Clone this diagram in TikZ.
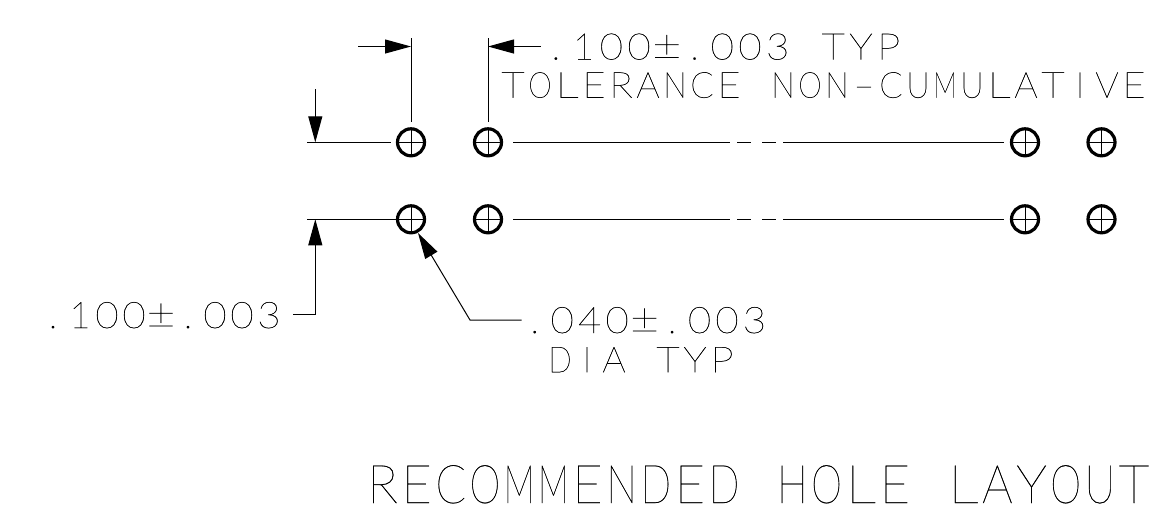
\documentclass[tikz,border=0pt]{standalone}
\usepackage{fontspec}
\usepackage{graphicx}
\usetikzlibrary{arrows.meta}
\newfontfamily\cad[FakeBold=0.5]{Lato Hairline}
\newlength{\cadpitch}
\newlength{\cadwide}
\makeatletter
\def\cadspaced#1{\cad@next#1\relax}
\def\cad@next#1{\ifx#1\relax\else\cad@put{#1}\expandafter\cad@next\fi}
\def\cad@put#1{\makebox[\cadpitch][c]{%
  \ifx#1~~\else\ifx#1..\else\ifx#11\relax 1\else\ifx#1II\else\ifx#1±\relax
    \resizebox{1.25\cadwide}{1.2\height}{±}\else
    \resizebox{\cadwide}{\height}{#1}\fi\fi\fi\fi\fi}}
\makeatother
\newcommand{\cadtext}[4]{\setlength{\cadpitch}{#2}\setlength{\cadwide}{#3}\fontsize{#1}{#1}\cad\cadspaced{#4}}
\tikzset{
  px/.style={x=0.75pt,y=-0.75pt},
  hole/.style={circle,draw=black,line width=2.4pt,minimum size=20.25pt,inner sep=0pt,
    path picture={\draw[line width=.6pt] (path picture bounding box.north)--(path picture bounding box.south)
      (path picture bounding box.west)--(path picture bounding box.east);}},
  dim/.style={line width=.75pt,draw=black},
  tip/.style={-{Triangle[length=19.5pt,width=10.5pt]}},
  small/.style={anchor=base west,inner sep=0pt,outer sep=0pt,text=black},
}
\begin{document}
\begin{tikzpicture}[px]
\useasboundingbox (0,0) rectangle (1174,529);
\node[hole] (h11) at (411,142.3) {};
\node[hole] (h12) at (488,142.3) {};
\node[hole] (h13) at (1025,142.3) {};
\node[hole] (h14) at (1101.5,142.3) {};
\node[hole] (h21) at (411,219.3) {};
\node[hole] (h22) at (488,219.3) {};
\node[hole] (h23) at (1025,219.3) {};
\node[hole] (h24) at (1101.5,219.3) {};
\foreach \r in {1,2}{
 \draw[dim] (513,0 |- h\r2) -- (730,0 |- h\r2);
 \draw[dim] (737,0 |- h\r2) -- (751,0 |- h\r2);
 \draw[dim] (762,0 |- h\r2) -- (776,0 |- h\r2);
 \draw[dim] (783,0 |- h\r2) -- (1004,0 |- h\r2);
}
\coordinate (e1t) at (411,38); \coordinate (e1b) at (411,122);
\coordinate (e2t) at (488,38); \coordinate (e2b) at (488,122);
\draw[dim] (e1t)--(e1b); \draw[dim] (e2t)--(e2b);
\coordinate (a1s) at (358,46.5); \coordinate (a1e) at (411,46.5);
\coordinate (a2s) at (540.7,46.5); \coordinate (a2e) at (488,46.5);
\draw[dim,tip] (a1s)--(a1e);
\draw[dim,tip] (a2s)--(a2e);
\coordinate (l1) at (307,142.3); \coordinate (l1e) at (391,142.3);
\draw[dim] (l1)--(l1e);
\coordinate (l2) at (307,219.3);
\draw[dim] (l2)--(h21.west);
\coordinate (v1s) at (315.3,89); \coordinate (v1e) at (315.3,142.3);
\draw[dim,tip] (v1s)--(v1e);
\coordinate (v2s) at (293.3,314); \coordinate (v2m) at (315.3,314); \coordinate (v2e) at (315.3,219.3);
\draw[dim,tip] (v2s)--(v2m)--(v2e);
\coordinate (d1s) at (521.7,320); \coordinate (d1m) at (470,320); \coordinate (d1e) at (418,233);
\draw[dim,tip] (d1s)--(d1m)--(d1e);
\node[small] (t1) at (542,59.5) {\cadtext{27.5pt}{20.8pt}{17.5pt}{.100±.003~TYP}};
\node[small] (t2) at (499.5,97.7) {\cadtext{27pt}{20.25pt}{17.5pt}{TOLERANCE~NON-CUMULATIVE}};
\node[small] (t3) at (39.5,328) {\cadtext{27.5pt}{20.25pt}{17.5pt}{.100±.003}};
\node[small] (t4) at (521,333) {\cadtext{27.5pt}{20.6pt}{17.5pt}{.040±.003}};
\node[small] (t5) at (546.5,372.3) {\cadtext{27pt}{20.25pt}{17.5pt}{DIA~TYP}};
\node[small] (t6) at (365.4,503) {\cadtext{40pt}{25.62pt}{23pt}{RECOMMENDED~HOLE~LAYOUT}};
\end{tikzpicture}
\end{document}
